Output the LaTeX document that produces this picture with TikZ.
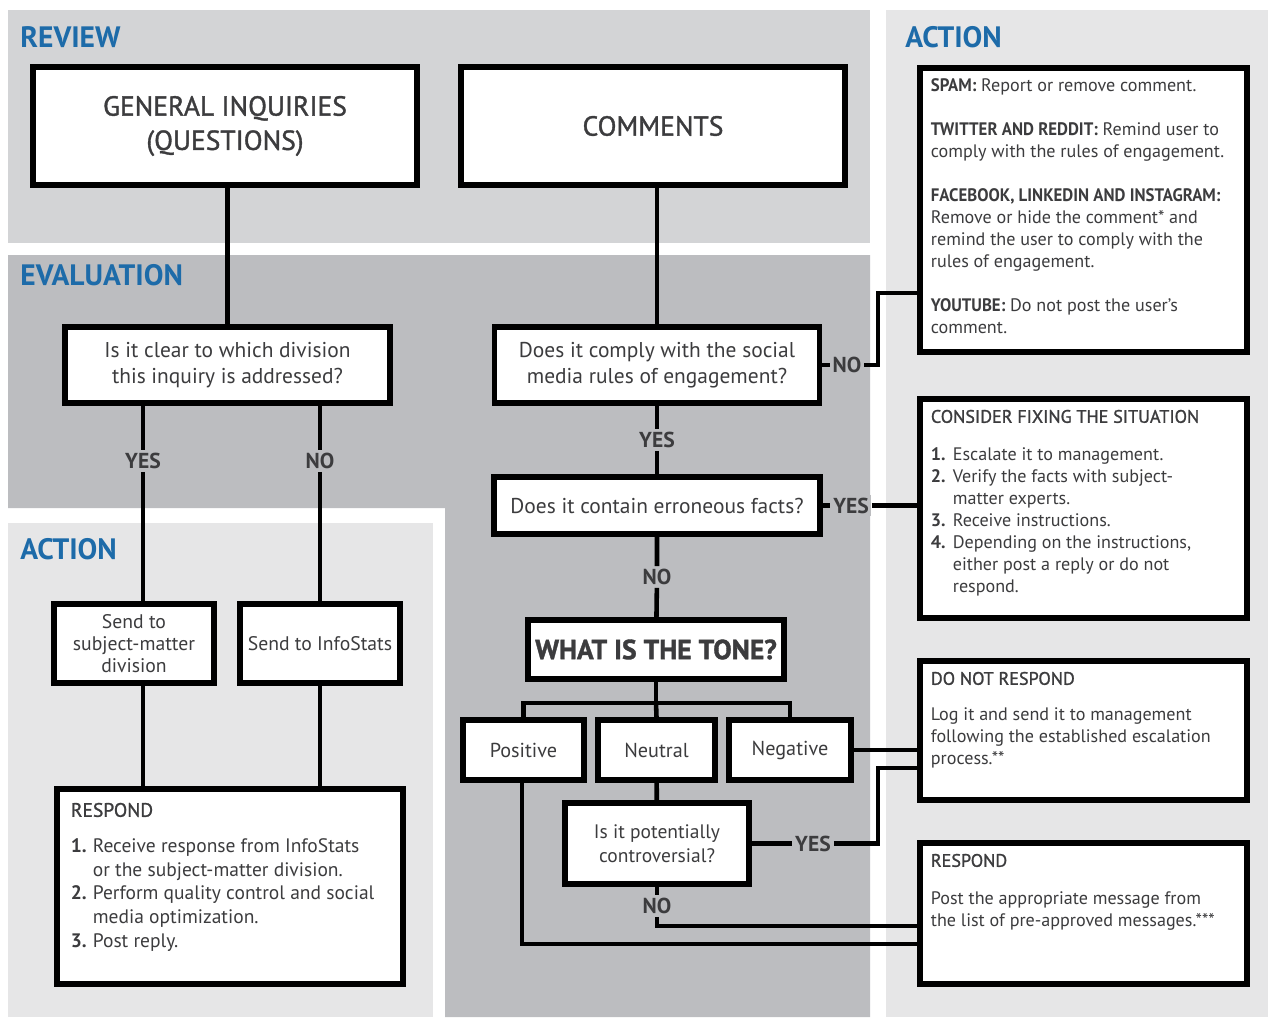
\documentclass[tikz,border=0pt]{standalone}
\usepackage{fontspec}
\setmainfont{PT Sans}
\newfontfamily\condfont[FakeStretch=0.93]{PT Sans}
\newfontfamily\semifont[FakeBold=1.3]{PT Sans}

\definecolor{reviewgrey}{HTML}{D3D4D6}
\definecolor{evalgrey}{HTML}{BCBDC0}
\definecolor{actiongrey}{HTML}{E6E6E7}
\definecolor{titleblue}{HTML}{1D6BA9}
\definecolor{textgrey}{HTML}{3C3C3E}

\newcommand{\titletxt}{\fontsize{16.8}{19}\selectfont\bfseries}
\newcommand{\bigtxt}{\semifont\fontsize{15.7}{19.5}\selectfont}
\newcommand{\qtxt}{\fontsize{12.2}{14.8}\selectfont}
\newcommand{\tonetxt}{\fontsize{11.5}{14}\selectfont}
\newcommand{\sendtxt}{\fontsize{11.2}{12.6}\selectfont}
\newcommand{\acttxt}{\fontsize{10.3}{12.5}\selectfont}
\newcommand{\resptxt}{\fontsize{11.1}{13.6}\selectfont}
\newcommand{\lbltxt}{\fontsize{12.3}{14}\selectfont\bfseries}
\newcommand{\hd}[1]{{\condfont\bfseries #1}}
\newcommand{\semihd}[1]{{\semifont #1}}

\newlength{\itmw}
\setlength{\itmw}{12.5pt}
\newcommand{\itm}[1]{\makebox[\itmw][l]{\textbf{#1}}}
\newcommand{\actiontext}[3]{\parbox[c][#2][t]{#1}{\raggedright #3}}

\begin{document}
\begin{tikzpicture}
        [x=0.02cm, y=-0.02cm,
         box/.style={draw, line width=3.3pt, fill=white, text=textgrey, align=center, inner sep=0pt},
         actbox/.style={draw, line width=3.3pt, fill=white, text=textgrey, anchor=north west, inner sep=0.22cm},
         conn/.style={line width=2.6pt},
         thinconn/.style={line width=1.8pt},
         lbl/.style={font=\lbltxt, text=textgrey, fill=evalgrey, inner sep=1.5pt},
         title/.style={font=\titletxt, text=titleblue, anchor=west, inner sep=0pt}]
        \useasboundingbox (0,0) rectangle (1270,1017);
        \fill[white] (0,0) rectangle (1270,1017);
        % panels
        \fill[reviewgrey] (8,10) rectangle (870,243);
        \fill[actiongrey] (886,10) rectangle (1268,1017);
        \fill[evalgrey] (8,255) -- (870,255) -- (870,1017) -- (445,1017) -- (445,508) -- (8,508) -- cycle;
        \fill[actiongrey] (8,523) rectangle (433,1017);
        \node[title] (review) at (20,37) {REVIEW};
        \node[title] (evaluation) at (20,275) {EVALUATION};
        \node[title] (actionl) at (20,549) {ACTION};
        \node[title] (actionr) at (905,37) {ACTION};
        % review
        \node[box, font=\bigtxt, minimum width=7.68cm, minimum height=2.36cm] (gi) at (225,126) {GENERAL INQUIRIES\\(QUESTIONS)};
        \node[box, font=\bigtxt, minimum width=7.68cm, minimum height=2.36cm] (cm) at (653,126) {COMMENTS};
        % evaluation
        \node[box, font=\qtxt, minimum width=6.5cm, minimum height=1.52cm] (q1) at (227.5,365) {Is it clear to which division\\this inquiry is addressed?};
        \node[box, font=\qtxt, minimum width=6.5cm, minimum height=1.52cm] (q2) at (657,365) {Does it comply with the social\\media rules of engagement?};
        \node[box, font=\qtxt, minimum width=6.52cm, minimum height=1.14cm] (q3) at (657,505.5) {Does it contain erroneous facts?};
        \node[box, font=\bigtxt\bfseries, minimum width=5.12cm, minimum height=1.18cm] (tone) at (656,649.5) {WHAT IS THE TONE?};
        \node[box, font=\tonetxt, minimum width=2.42cm, minimum height=1.2cm] (pos) at (523.5,750) {Positive};
        \node[box, font=\tonetxt, minimum width=2.34cm, minimum height=1.2cm] (neu) at (656.5,750) {Neutral};
        \node[box, font=\tonetxt, minimum width=2.44cm, minimum height=1.2cm] (neg) at (790,750) {Negative};
        \node[box, font=\resptxt, minimum width=3.68cm, minimum height=1.62cm] (cont) at (657,843.5) {Is it potentially\\controversial?};
        % left action
        \node[box, font=\sendtxt, minimum width=3.2cm, minimum height=1.58cm] (smd) at (134,643.5) {Send to\\subject-matter\\division};
        \node[box, font=\sendtxt, minimum width=3.2cm, minimum height=1.58cm] (is) at (320,643.5) {Send to InfoStats};
        \node[actbox, inner sep=0.28cm, font=\resptxt] (resp1) at (54,786) {\actiontext{6.36cm}{3.34cm}{%
            \semihd{RESPOND}\\[6.5pt]
            \itm{1.}Receive response from InfoStats\\
            \hspace*{\itmw}or the subject-matter division.\\
            \itm{2.}Perform quality control and social\\
            \hspace*{\itmw}media optimization.\\
            \itm{3.}Post reply.}};
        % right action
        \node[actbox, font=\acttxt] (spam) at (917,65) {\actiontext{6.1cm}{5.24cm}{%
            \hd{SPAM:} Report or remove comment.\\[12.5pt]
            \hd{TWITTER AND REDDIT:} Remind user to\\
            comply with the rules of engagement.\\[12.5pt]
            \hd{FACEBOOK, LINKEDIN AND INSTAGRAM:}\\
            Remove or hide the comment* and\\
            remind the user to comply with the\\
            rules of engagement.\\[12.5pt]
            \hd{YOUTUBE:} Do not post the user’s\\
            comment.}};
        \node[actbox, font=\acttxt] (fix) at (917,396) {\actiontext{6.1cm}{3.94cm}{%
            \semihd{CONSIDER FIXING THE SITUATION}\\[9pt]
            \itm{1.}Escalate it to management.\\
            \itm{2.}Verify the facts with subject-\\
            \hspace*{\itmw}matter experts.\\
            \itm{3.}Receive instructions.\\
            \itm{4.}Depending on the instructions,\\
            \hspace*{\itmw}either post a reply or do not\\
            \hspace*{\itmw}respond.}};
        \node[actbox, font=\acttxt] (dnr) at (917,658) {\actiontext{6.1cm}{2.34cm}{%
            \semihd{DO NOT RESPOND}\\[8pt]
            Log it and send it to management\\
            following the established escalation\\
            process.**}};
        \node[actbox, font=\acttxt] (resp2) at (917,840) {\actiontext{6.1cm}{2.38cm}{%
            \semihd{RESPOND}\\[9pt]
            Post the appropriate message from\\
            the list of pre-approved messages.***}};
        % labels
        \node[lbl] (yes1) at (143,461) {YES};
        \node[lbl] (no1) at (320,461) {NO};
        \node[lbl] (yes2) at (657,440) {YES};
        \node[lbl] (no2) at (847,365) {NO};
        \node[lbl] (no3) at (657,577) {NO};
        \node[lbl] (yes3) at (851,505.5) {YES};
        \node[lbl] (yes4) at (813,843.5) {YES};
        \node[lbl] (no4) at (657,906) {NO};
        \coordinate (k1) at (878,293);
        \coordinate (k2) at (878,768);
        \coordinate (k3) at (657,926);
        \coordinate (k4) at (522,944);
        % connectors
        \draw[conn] (q1.north |- gi.south) -- (q1.north);
        \draw[conn] (q2.north |- cm.south) -- (q2.north);
        \draw[conn] (q1.south -| yes1) -- (yes1) -- (yes1 |- smd.north);
        \draw[conn] (q1.south -| no1) -- (no1) -- (is.north);
        \draw[conn] (smd.south -| yes1) -- (yes1 |- resp1.north);
        \draw[conn] (is.south) -- (is.south |- resp1.north);
        \draw[conn] (q2) -- (yes2) -- (q3);
        \draw[conn] (q3) -- (no3) -- (tone);
        \draw[conn] (q2) -- (no2) -| (k1) -- (k1 -| spam.west);
        \draw[conn] (q3) -- (yes3) -- (yes3 -| fix.west);
        \draw[conn] (tone.south) -- ++(0,21) coordinate (fork);
        \draw[conn] (pos.north) |- (fork) -| (neg.north);
        \draw[conn] (fork) -- (neu.north);
        \draw[conn] (neg) -- (neg -| dnr.west);
        \draw[conn] (neu) -- (cont);
        \draw[conn] (cont) -- (yes4) -| (k2) -- (k2 -| dnr.west);
        \draw[conn] (cont) -- (no4);
        \draw[thinconn] (no4) -- (k3) -- (k3 -| resp2.west);
        \draw[thinconn] (pos.south -| k4) -- (k4) -- (k4 -| resp2.west);
    \end{tikzpicture}
\end{document}
